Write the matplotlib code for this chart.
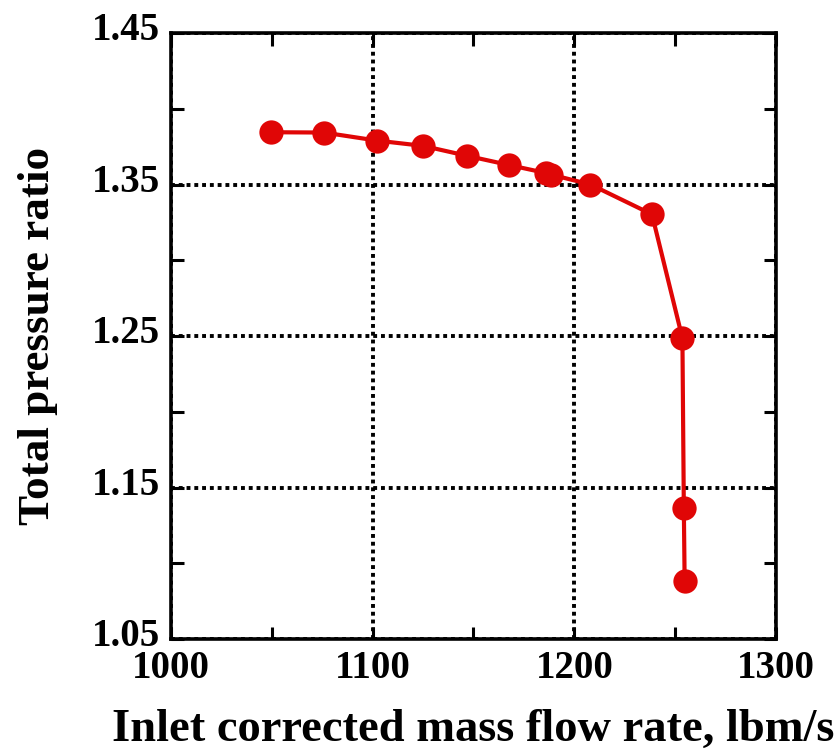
import numpy as np
import matplotlib
matplotlib.use("Agg")
import matplotlib.pyplot as plt
import matplotlib.transforms as mtransforms
from matplotlib.ticker import MultipleLocator

# speedline: inlet corrected mass flow vs total pressure ratio
mass_flow = [1049.5, 1075.8, 1102.0, 1125.0, 1146.6, 1167.8, 1186.2, 1188.6,
             1208.0, 1238.5, 1253.6, 1254.3, 1254.7]
pressure_ratio = [1.3845, 1.3843, 1.3790, 1.3755, 1.3690, 1.3628, 1.3575, 1.3565,
                  1.3500, 1.3303, 1.2485, 1.1365, 1.0885]

plt.rcParams["font.family"] = ["Liberation Serif", "DejaVu Serif"]
plt.rcParams["font.weight"] = "bold"

fig = plt.figure(figsize=(8.39, 7.5), dpi=100)
ax = fig.add_axes([0.2038, 0.148, 0.7211, 0.808])

ax.plot(mass_flow, pressure_ratio, color="#e00606", linewidth=3,
        marker="o", markersize=17.5, markeredgewidth=0, zorder=3)

ax.set_xlim(1000, 1300)
ax.set_ylim(1.05, 1.45)
ax.xaxis.set_major_locator(MultipleLocator(100))
ax.xaxis.set_minor_locator(MultipleLocator(50))
ax.yaxis.set_minor_locator(MultipleLocator(0.05))
yt = np.arange(1.05, 1.451, 0.1)
ax.set_yticks(yt)
ax.set_yticklabels([f"{v:.2f}" for v in yt])

ax.grid(True, which="major", color="black", linestyle=(0, (1, 1)), linewidth=2.8)
for s in ax.spines.values():
    s.set_linewidth(2.6)

ax.tick_params(which="both", direction="in", top=True, right=True,
               length=9, width=2.2, labelsize=28, pad=8)

# nudge the y tick labels up a little so 1.05 clears 1000
lift = mtransforms.ScaledTranslation(0, 5 / 72, fig.dpi_scale_trans)
for lbl in ax.get_yticklabels():
    lbl.set_transform(lbl.get_transform() + lift)

ax.set_xlabel("Inlet corrected mass flow rate, lbm/s", fontsize=33.5,
              fontweight="bold", labelpad=16)
ax.set_ylabel("Total pressure ratio", fontsize=32.5, fontweight="bold",
              labelpad=24)

fig.savefig("out.png", dpi=100)
